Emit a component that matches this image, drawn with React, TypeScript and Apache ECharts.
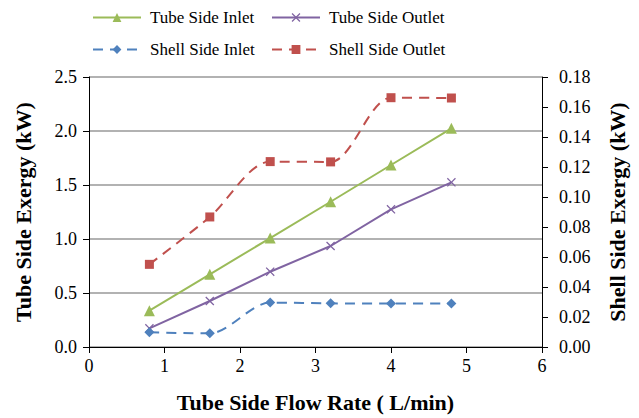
import React, { useEffect, useRef } from "react";
import * as echarts from "echarts";

const flowRates = [0.8, 1.6, 2.4, 3.2, 4.0, 4.8];
const tubeInlet = [0.336, 0.673, 1.009, 1.345, 1.685, 2.025];
const tubeOutlet = [0.173, 0.426, 0.697, 0.935, 1.275, 1.525];
const shellInlet = [0.0098, 0.0091, 0.0296, 0.0291, 0.029, 0.029];
const shellOutlet = [0.0551, 0.0867, 0.1236, 0.1234, 0.1662, 0.166];

const FONT = "Liberation Serif";
const pair = (ys: number[]) => flowRates.map((x, i) => [x, ys[i]]);
const CROSS = "path://M0,1L1,0L5,4L9,0L10,1L6,5L10,9L9,10L5,6L1,10L0,9L4,5Z";

export default function App() {
  const ref = useRef<HTMLDivElement>(null);
  useEffect(() => {
    if (!ref.current) return;
    const chart = echarts.init(ref.current, undefined, { renderer: "svg" });
    const legendBase = {
      orient: "horizontal",
      itemWidth: 48,
      itemHeight: 11,
      itemGap: 0,
      textStyle: { fontFamily: FONT, fontSize: 17, color: "#000", padding: [0, 0, 0, 4] },
    };
    const titleStyle = { fontFamily: FONT, fontSize: 22, fontWeight: "bold", color: "#000" };
    const tickStyle = { fontFamily: FONT, fontSize: 18, color: "#000" };
    chart.setOption({
      animation: false,
      backgroundColor: "#fff",
      legend: [
        { ...legendBase, left: 87, top: 4, data: ["Tube Side Inlet"] },
        { ...legendBase, left: 266, top: 4, data: ["Tube Side Outlet"] },
        { ...legendBase, left: 87, top: 36, data: ["Shell Side Inlet"] },
        { ...legendBase, left: 266, top: 36, data: ["Shell Side Outlet"] },
      ],
      grid: { left: 89, right: 97, top: 77, bottom: 71, containLabel: false },
      xAxis: {
        type: "value",
        min: 0,
        max: 6,
        interval: 1,
        name: "Tube Side Flow Rate ( L/min)",
        nameLocation: "middle",
        nameGap: 44,
        nameTextStyle: titleStyle,
        axisLine: { show: true, lineStyle: { color: "#000", width: 1 } },
        axisTick: { show: true, length: 6, lineStyle: { color: "#000" } },
        axisLabel: { ...tickStyle, margin: 10 },
        splitLine: { show: false },
      },
      yAxis: [
        {
          type: "value",
          min: 0,
          max: 2.5,
          interval: 0.5,
          name: "Tube Side Exergy (kW)",
          nameLocation: "middle",
          nameGap: 55,
          nameTextStyle: titleStyle,
          axisLine: { show: true, lineStyle: { color: "#000", width: 1 } },
          axisTick: { show: true, length: 6, lineStyle: { color: "#000" } },
          axisLabel: { ...tickStyle, margin: 12, formatter: (v: number) => v.toFixed(1) },
          splitLine: { show: true, lineStyle: { color: "#999", width: 1.5 } },
        },
        {
          type: "value",
          min: 0,
          max: 0.18,
          interval: 0.02,
          position: "right",
          name: "Shell Side Exergy (kW)",
          nameLocation: "middle",
          nameGap: 64,
          nameTextStyle: titleStyle,
          axisLine: { show: true, lineStyle: { color: "#000", width: 1 } },
          axisTick: { show: true, length: 6, lineStyle: { color: "#000" } },
          axisLabel: { ...tickStyle, margin: 17, formatter: (v: number) => v.toFixed(2) },
          splitLine: { show: false },
        },
      ],
      series: [
        {
          name: "Tube Side Inlet",
          type: "line",
          yAxisIndex: 0,
          data: pair(tubeInlet),
          symbol: "triangle",
          symbolSize: 11,
          color: "#9BBB59",
          lineStyle: { color: "#9BBB59", width: 2 },
          itemStyle: { color: "#9BBB59" },
        },
        {
          name: "Tube Side Outlet",
          type: "line",
          yAxisIndex: 0,
          data: pair(tubeOutlet),
          symbol: CROSS,
          symbolSize: 9,
          color: "#8064A2",
          lineStyle: { color: "#8064A2", width: 2 },
          itemStyle: { color: "#8064A2" },
        },
        {
          name: "Shell Side Inlet",
          type: "line",
          yAxisIndex: 1,
          data: pair(shellInlet),
          smooth: 0.3,
          symbol: "diamond",
          symbolSize: 10,
          color: "#4F81BD",
          lineStyle: { color: "#4F81BD", width: 2, type: [10, 7] },
          itemStyle: { color: "#4F81BD" },
        },
        {
          name: "Shell Side Outlet",
          type: "line",
          yAxisIndex: 1,
          data: pair(shellOutlet),
          smooth: 0.3,
          symbol: "rect",
          symbolSize: 9,
          color: "#C0504D",
          lineStyle: { color: "#C0504D", width: 2, type: [10, 7] },
          itemStyle: { color: "#C0504D" },
        },
      ],
    });
    return () => chart.dispose();
  }, []);
  return <div ref={ref} style={{ width: 639, height: 418, position: "absolute", left: 0, top: 0 }} />;
}
